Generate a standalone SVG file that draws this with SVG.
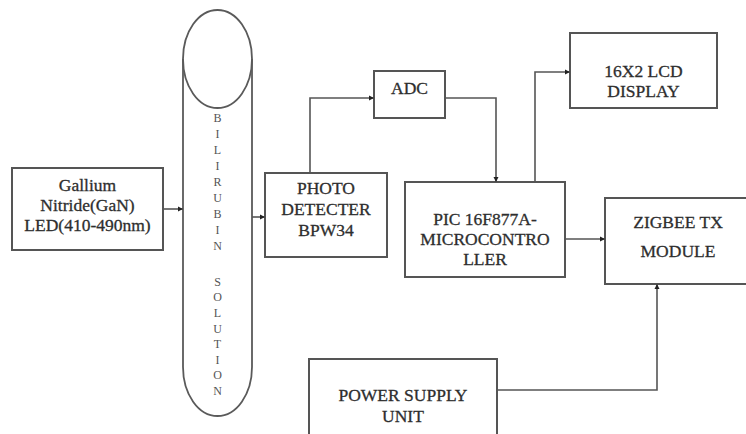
<svg xmlns="http://www.w3.org/2000/svg" width="746" height="434" viewBox="0 0 746 434">
<defs>
<style>
.box{fill:#ffffff;stroke:#555555;stroke-width:2}
.tube{fill:none;stroke:#5a5a5a;stroke-width:1.8}
.lbl{font-family:"Liberation Serif","Times New Roman",serif;font-size:17.5px;fill:#2e2e2e;stroke:#2e2e2e;stroke-width:0.3;text-anchor:middle}
.vt{font-family:"Liberation Serif","Times New Roman",serif;font-size:12px;fill:#555555;text-anchor:middle}
.con{fill:none;stroke:#555555;stroke-width:1.6}
</style>
<marker id="ah" markerWidth="6" markerHeight="6" refX="5" refY="3" orient="auto" markerUnits="userSpaceOnUse">
<path d="M0,0.5 L5,3 L0,5.5 Z" fill="#222222"/>
</marker>
</defs>
<rect width="746" height="434" fill="#ffffff"/>

<g id="led">
<rect class="box" x="12" y="168" width="151" height="82"/>
<text class="lbl" x="87.5" y="191">Gallium</text>
<text class="lbl" x="87.5" y="211">Nitride(GaN)</text>
<text class="lbl" x="87.5" y="231">LED(410-490nm)</text>
</g>

<g id="tube">
<ellipse class="tube" cx="217.5" cy="59" rx="34.5" ry="49"/>
<path class="tube" d="M183,59 L183,367 A34.5,49 0 0 0 252,367 L252,59"/>
<text class="vt" x="217.5" y="122">B</text>
<text class="vt" x="217.5" y="138">I</text>
<text class="vt" x="217.5" y="154">L</text>
<text class="vt" x="217.5" y="170">I</text>
<text class="vt" x="217.5" y="186">R</text>
<text class="vt" x="217.5" y="202">U</text>
<text class="vt" x="217.5" y="218">B</text>
<text class="vt" x="217.5" y="234">I</text>
<text class="vt" x="217.5" y="250">N</text>
<text class="vt" x="217.5" y="286">S</text>
<text class="vt" x="217.5" y="301">O</text>
<text class="vt" x="217.5" y="317">L</text>
<text class="vt" x="217.5" y="333">U</text>
<text class="vt" x="217.5" y="348">T</text>
<text class="vt" x="217.5" y="364">I</text>
<text class="vt" x="217.5" y="379">O</text>
<text class="vt" x="217.5" y="395">N</text>
</g>

<g id="photo">
<rect class="box" x="265" y="173" width="122" height="84"/>
<text class="lbl" x="326" y="194">PHOTO</text>
<text class="lbl" x="326" y="215">DETECTER</text>
<text class="lbl" x="326" y="236">BPW34</text>
</g>

<g id="adc">
<rect class="box" x="374" y="71" width="71" height="47"/>
<text class="lbl" x="409.5" y="94">ADC</text>
</g>

<g id="pic">
<rect class="box" x="405" y="182" width="160" height="95"/>
<text class="lbl" x="485" y="225">PIC 16F877A-</text>
<text class="lbl" x="485" y="245">MICROCONTRO</text>
<text class="lbl" x="485" y="265">LLER</text>
</g>

<g id="lcd">
<rect class="box" x="570" y="33" width="147" height="75"/>
<text class="lbl" x="643.5" y="77">16X2 LCD</text>
<text class="lbl" x="643.5" y="97">DISPLAY</text>
</g>

<g id="zigbee">
<rect class="box" x="605" y="198" width="150" height="86"/>
<text class="lbl" x="678" y="228">ZIGBEE TX</text>
<text class="lbl" x="678" y="257">MODULE</text>
</g>

<g id="psu">
<rect class="box" x="309" y="359" width="188" height="85"/>
<text class="lbl" x="403" y="401">POWER SUPPLY</text>
<text class="lbl" x="403" y="422">UNIT</text>
</g>

<g id="connectors">
<path class="con" d="M163,209 L183,209" marker-end="url(#ah)"/>
<path class="con" d="M252,217 L265,217" marker-end="url(#ah)"/>
<path class="con" d="M310,173 L310,98 L374,98" marker-end="url(#ah)"/>
<path class="con" d="M445,98 L496,98 L496,182" marker-end="url(#ah)"/>
<path class="con" d="M535,182 L535,72 L570,72" marker-end="url(#ah)"/>
<path class="con" d="M565,239 L605,239" marker-end="url(#ah)"/>
<path class="con" d="M497,390 L657,390 L657,284" marker-end="url(#ah)"/>
</g>
</svg>
